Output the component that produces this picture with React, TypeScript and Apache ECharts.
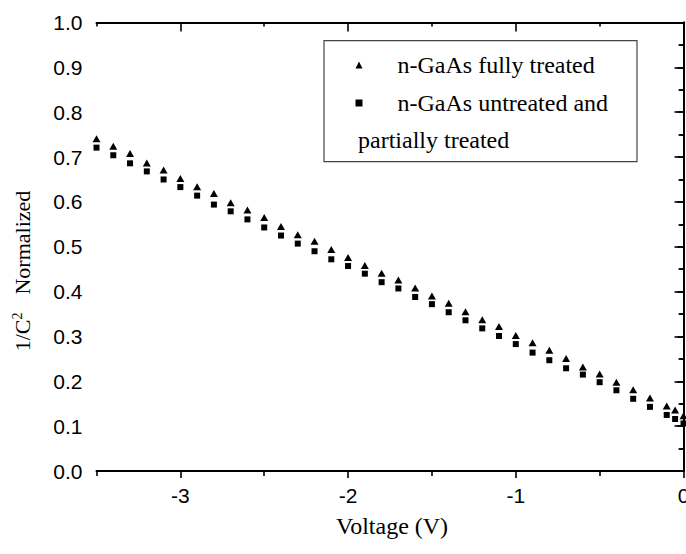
import React, { useEffect, useRef } from "react";
import * as echarts from "echarts";

// Voltage (V)
const voltage = [
  -3.5, -3.4, -3.3, -3.2, -3.1, -3.0, -2.9, -2.8, -2.7, -2.6, -2.5, -2.4, -2.3,
  -2.2, -2.1, -2.0, -1.9, -1.8, -1.7, -1.6, -1.5, -1.4, -1.3, -1.2, -1.1, -1.0,
  -0.9, -0.8, -0.7, -0.6, -0.5, -0.4, -0.3, -0.2, -0.1, -0.05, 0,
];
// 1/C^2 normalized, n-GaAs fully treated (triangles)
const fullyTreated = [
  0.741, 0.724, 0.708, 0.687, 0.671, 0.652, 0.634, 0.619, 0.598, 0.582, 0.565,
  0.545, 0.527, 0.512, 0.494, 0.476, 0.458, 0.441, 0.426, 0.408, 0.39, 0.374,
  0.355, 0.337, 0.322, 0.302, 0.286, 0.269, 0.251, 0.232, 0.216, 0.198, 0.181,
  0.163, 0.145, 0.136, 0.123,
];
// 1/C^2 normalized, n-GaAs untreated and partially treated (squares)
const untreated = [
  0.721, 0.704, 0.686, 0.668, 0.65, 0.633, 0.614, 0.594, 0.579, 0.561, 0.543,
  0.525, 0.507, 0.49, 0.472, 0.457, 0.44, 0.421, 0.407, 0.388, 0.372, 0.354,
  0.336, 0.318, 0.301, 0.283, 0.264, 0.247, 0.229, 0.215, 0.198, 0.18, 0.161,
  0.143, 0.125, 0.116, 0.106,
];
const xMajorTicks = [-3, -2, -1, 0];
const xMinorTicks = [-3.5, -2.5, -1.5, -0.5];
const seriesNames = [
  "n-GaAs fully treated",
  "n-GaAs untreated and partially treated",
];

const SANS = "'Liberation Sans', Arial, sans-serif";
const SERIF = "'Liberation Serif', 'Times New Roman', serif";

export default function App() {
  const ref = useRef<HTMLDivElement>(null);
  useEffect(() => {
    if (!ref.current) return;
    const chart = echarts.init(ref.current, undefined, { renderer: "svg" });
    const axisLine = { show: true, lineStyle: { color: "#000", width: 2 } };
    const tickStyle = { color: "#000", width: 1.6 };
    const xBase = { type: "value", min: -3.5, max: 0, splitLine: { show: false } };
    const option: any = {
      animation: false,
      backgroundColor: "#fff",
      grid: { left: 96.5, top: 22.5, width: 587, height: 448.5, outerBoundsMode: "none", containLabel: false },
      xAxis: [
        {
          ...xBase,
          position: "bottom",
          axisLine,
          axisTick: { show: true, customValues: xMajorTicks, length: 7, lineStyle: tickStyle },
          axisLabel: {
            customValues: xMajorTicks,
            fontSize: 21,
            fontFamily: SANS,
            color: "#000",
            margin: 14,
            alignMaxLabel: "center",
            alignMinLabel: "center",
            hideOverlap: false,
            formatter: (v: number) => String(v),
          },
        },
        {
          ...xBase,
          position: "bottom",
          axisLine: { show: false },
          axisTick: { show: true, customValues: xMinorTicks, length: 5, lineStyle: tickStyle },
          axisLabel: { show: false },
        },
        {
          ...xBase,
          position: "top",
          axisLine,
          axisTick: { show: true, inside: true, customValues: xMajorTicks, length: 9, lineStyle: tickStyle },
          axisLabel: { show: false },
        },
        {
          ...xBase,
          position: "top",
          axisLine: { show: false },
          axisTick: { show: true, inside: true, customValues: xMinorTicks, length: 4, lineStyle: tickStyle },
          axisLabel: { show: false },
        },
      ],
      yAxis: [
        {
          type: "value",
          position: "left",
          min: 0,
          max: 1,
          interval: 0.1,
          splitLine: { show: false },
          axisLine,
          axisTick: { show: true, length: 9, lineStyle: tickStyle },
          minorTick: { show: true, splitNumber: 2, length: 5, lineStyle: tickStyle },
          axisLabel: {
            fontSize: 21,
            fontFamily: SANS,
            color: "#000",
            margin: 14,
            formatter: (v: number) => v.toFixed(1),
          },
        },
        {
          type: "value",
          position: "right",
          min: 0,
          max: 1,
          interval: 0.1,
          splitLine: { show: false },
          axisLine,
          axisTick: { show: true, inside: true, length: 6, lineStyle: tickStyle },
          minorTick: { show: true, splitNumber: 2, length: 4, lineStyle: tickStyle },
          axisLabel: { show: false },
        },
      ],
      legend: {
        orient: "vertical",
        left: 355.5,
        top: 53,
        padding: 0,
        itemGap: 14,
        itemWidth: 7,
        itemHeight: 7,
        selectedMode: false,
        data: [
          { name: seriesNames[0], icon: "triangle" },
          { name: seriesNames[1], icon: "rect" },
        ],
        formatter: (name: string) =>
          name === seriesNames[1] ? "n-GaAs untreated and" : name,
        textStyle: {
          fontSize: 24,
          lineHeight: 24,
          fontFamily: SERIF,
          color: "#000",
          padding: [0, 0, 0, 30],
        },
      },
      graphic: [
        {
          type: "rect",
          shape: { x: 324, y: 40.7, width: 313, height: 121 },
          style: { fill: "none", stroke: "#444", lineWidth: 1.2 },
          z: 10,
        },
        {
          type: "text",
          x: 358,
          y: 140,
          z: 10,
          style: {
            text: "partially treated",
            fontSize: 24,
            fontFamily: SERIF,
            fill: "#000",
            align: "left",
            verticalAlign: "middle",
          },
        },
        {
          type: "text",
          x: 392,
          y: 526,
          style: {
            text: "Voltage (V)",
            fontSize: 24,
            fontFamily: SERIF,
            fill: "#000",
            align: "center",
            verticalAlign: "middle",
          },
        },
        {
          type: "text",
          x: 22,
          y: 271,
          rotation: Math.PI / 2,
          style: {
            text: "1/C{sup|2}{sp| }Normalized",
            fontSize: 22,
            fontFamily: SERIF,
            fill: "#000",
            align: "center",
            verticalAlign: "middle",
            rich: {
              sup: { fontSize: 14, fontFamily: SERIF, fill: "#000", padding: [0, 0, 10, 0] },
              sp: { width: 18, fontSize: 22 },
            },
          },
        },
      ],
      series: [
        {
          name: seriesNames[0],
          type: "scatter",
          xAxisIndex: 0,
          yAxisIndex: 0,
          symbol: "triangle",
          symbolSize: [8, 7],
          itemStyle: { color: "#000", opacity: 1 },
          data: voltage.map((v, i) => [v, fullyTreated[i]]),
        },
        {
          name: seriesNames[1],
          type: "scatter",
          xAxisIndex: 0,
          yAxisIndex: 0,
          symbol: "rect",
          symbolSize: 6,
          itemStyle: { color: "#000", opacity: 1 },
          data: voltage.map((v, i) => [v, untreated[i]]),
        },
      ],
    };
    chart.setOption(option);
    return () => chart.dispose();
  }, []);
  return (
    <div
      ref={ref}
      style={{ position: "fixed", left: 0, top: 0, width: 686, height: 554, background: "#fff" }}
    />
  );
}
